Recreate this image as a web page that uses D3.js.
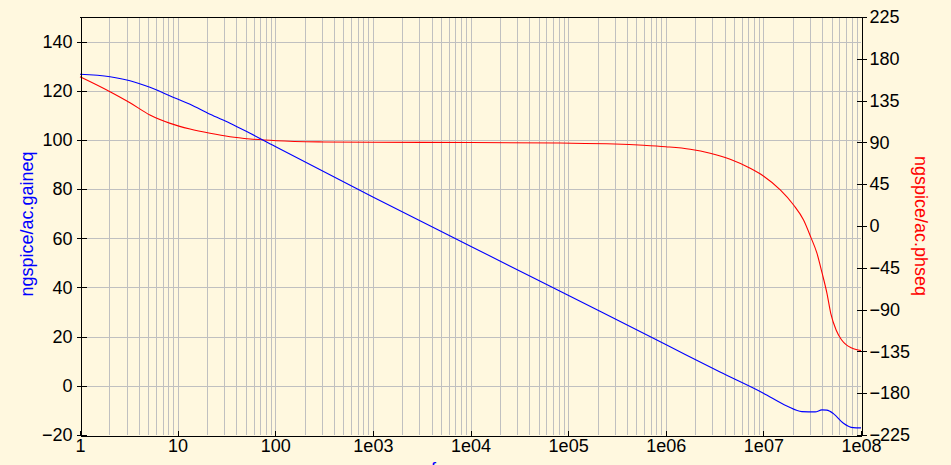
<!DOCTYPE html>
<html><head><meta charset="utf-8">
<script src="https://cdn.jsdelivr.net/npm/d3@7"></script>
<style>
html,body{margin:0;padding:0;background:#FFF8DF;}
svg{display:block;font-family:"Liberation Sans",Arial,sans-serif;}
</style></head>
<body><svg id="c" width="951" height="465"></svg>
<script>
// ---- data ----
const gainFreq = [1, 2.03, 3.25, 5.2, 8.4, 13.4, 21.5, 34.4, 55.2, 103.5, 1e3, 1e4, 1e5, 1e6, 3.6e6, 1e7, 1.74e7, 2.48e7, 3.39e7, 3.98e7, 4.47e7, 5.25e7, 6.61e7, 8.32e7, 1e8];
const gainDb   = [126.7, 125.7, 124.1, 121.4, 117.9, 114.5, 110.4, 106.8, 102.7, 97.0, 76.8, 56.8, 36.8, 16.8, 5.6, -3.0, -8.2, -10.5, -10.6, -9.8, -9.9, -11.4, -15.2, -17.0, -17.1];
const phaseFreq = [1, 2.03, 3.25, 5.2, 8.4, 13.4, 21.5, 34.4, 55.2, 103.5, 316, 1e3, 1e4, 8.3e4, 3.0e5, 5.9e5, 1e6, 1.78e6, 2.85e6, 4.57e6, 7.33e6, 1e7, 1.49e7, 2.04e7, 2.58e7, 3.06e7, 3.53e7, 3.98e7, 4.47e7, 4.9e7, 5.56e7, 6.31e7, 7.08e7, 7.94e7, 8.91e7, 1e8];
const phaseDeg  = [160.7, 144.6, 132.7, 119.5, 110.5, 104.4, 99.8, 96.1, 93.7, 91.8, 90.5, 90.1, 89.9, 89.3, 88.3, 86.9, 85.3, 82.6, 78.3, 71.8, 62.1, 53.8, 38.8, 22.6, 6.5, -12, -29, -50, -72, -94, -112, -122.5, -128, -131, -133, -134.2];
const xTickValues = [1, 10, 100, 1e3, 1e4, 1e5, 1e6, 1e7, 1e8];
const xTickLabels = ["1", "10", "100", "1e03", "1e04", "1e05", "1e06", "1e07", "1e08"];
const leftTicks  = [-20, 0, 20, 40, 60, 80, 100, 120, 140];
const rightTicks = [-225, -180, -135, -90, -45, 0, 45, 90, 135, 180, 225];
const leftLabel = "ngspice/ac.gaineq";
const rightLabel = "ngspice/ac.phseq";
const xLabel = "frequency";

// ---- layout ----
const L = 80, R = 861, T = 17, B = 435;
const svg = d3.select("#c");
const x = d3.scaleLog().domain([1, 1e8]).range([L, R]);
const yL = d3.scaleLinear().domain([-20, 150]).range([B, T]);
const yR = d3.scaleLinear().domain([-225, 225]).range([B, T]);

// grid
const minor = [];
for (let d = 0; d < 8; d++) for (let m = 1; m <= 9; m++) { if (d > 0 || m > 1) minor.push(m * Math.pow(10, d)); }
const grid = svg.append("g").attr("stroke", "#C0C0C0").attr("stroke-width", 1).attr("shape-rendering", "crispEdges");
grid.selectAll(".v").data(minor).enter().append("line")
  .attr("x1", d => Math.round(x(d)) + 0.5).attr("x2", d => Math.round(x(d)) + 0.5)
  .attr("y1", T).attr("y2", B);
grid.selectAll(".h").data(leftTicks.slice(1)).enter().append("line")
  .attr("x1", L).attr("x2", R)
  .attr("y1", d => Math.round(yL(d)) + 0.5).attr("y2", d => Math.round(yL(d)) + 0.5);

// curves
const lineG = d3.line().x(d => x(d[0])).y(d => yL(d[1])).curve(d3.curveMonotoneX);
const lineP = d3.line().x(d => x(d[0])).y(d => yR(d[1])).curve(d3.curveMonotoneX);
svg.append("path").datum(phaseFreq.map((f, i) => [f, phaseDeg[i]]))
  .attr("d", lineP).attr("fill", "none").attr("stroke", "#FF0000").attr("stroke-width", 1.1);
svg.append("path").datum(gainFreq.map((f, i) => [f, gainDb[i]]))
  .attr("d", lineG).attr("fill", "none").attr("stroke", "#0000FF").attr("stroke-width", 1.1);

// frame top
svg.append("line").attr("x1", L).attr("x2", R).attr("y1", T + 0.5).attr("y2", T + 0.5)
  .attr("stroke", "#000").attr("shape-rendering", "crispEdges");

function styleAxis(g) {
  g.selectAll("text").attr("font-size", 18).attr("fill", "#000").attr("font-family", '"Liberation Sans",Arial,sans-serif');
  g.selectAll("path.domain,line").attr("stroke", "#000").attr("shape-rendering", "crispEdges");
}

// left axis
const gl = svg.append("g").attr("transform", `translate(${L + 0.5},0)`)
  .call(d3.axisLeft(yL).tickValues(leftTicks).tickSizeInner(4).tickSizeOuter(0).tickPadding(4));
gl.selectAll(".tick line").attr("x1", 6);
styleAxis(gl);

// right axis
const gr = svg.append("g").attr("transform", `translate(${R + 0.5},0)`)
  .call(d3.axisRight(yR).tickValues(rightTicks).tickSizeInner(5).tickSizeOuter(0).tickPadding(3));
gr.selectAll(".tick line").attr("x1", -5);
styleAxis(gr);

// bottom axis
const gb = svg.append("g").attr("transform", `translate(0,${B + 0.5})`)
  .call(d3.axisBottom(x).tickValues(xTickValues).tickFormat((d, i) => xTickLabels[i])
    .tickSizeInner(-5).tickSizeOuter(0).tickPadding(4));
styleAxis(gb);

// axis titles
svg.append("text").attr("transform", `translate(33,${(T + B) / 2 - 2}) rotate(-90)`)
  .attr("text-anchor", "middle").attr("font-size", 18).attr("fill", "#0000FF").text(leftLabel);
svg.append("text").attr("transform", `translate(915,${(T + B) / 2}) rotate(90)`)
  .attr("text-anchor", "middle").attr("font-size", 18).attr("fill", "#FF0000").text(rightLabel);
svg.append("text").attr("x", (L + R) / 2).attr("y", 475)
  .attr("text-anchor", "middle").attr("font-size", 18).attr("fill", "#0000FF").text(xLabel);
</script></body></html>
